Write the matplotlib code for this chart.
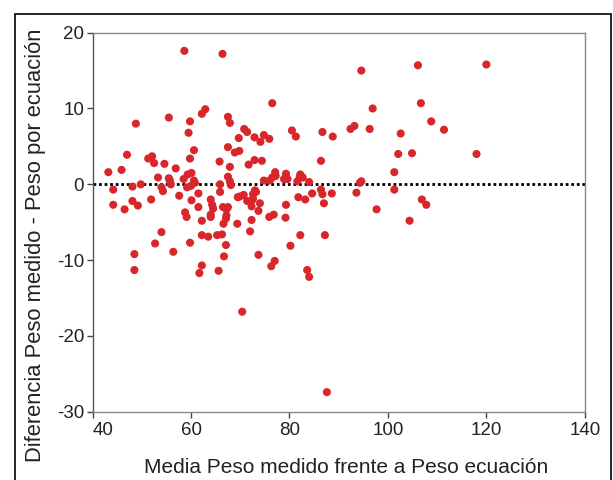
import matplotlib.pyplot as plt
from matplotlib.patches import Rectangle

plt.rcParams['font.family'] = ['Liberation Sans', 'DejaVu Sans']
plt.rcParams['axes.unicode_minus'] = False

# mean of measured weight and equation weight (x) vs difference (y)
media = [58.65, 66.4, 106.1, 120.0, 94.6, 76.5, 106.7, 96.9, 62.9, 62.2,
         55.5, 67.5, 59.8, 67.9, 48.8, 108.8, 59.5, 70.8, 71.4, 69.7,
         72.9, 74.8, 74.1, 75.9, 80.5, 81.3, 86.7, 88.8, 92.4, 93.2,
         96.3, 102.6, 111.4, 67.5, 60.6, 59.8, 47.0, 68.9, 69.8, 51.3,
         52.1, 52.5, 54.6, 56.9, 65.8, 67.9, 71.7, 72.9, 74.4, 86.4,
         102.1, 104.9, 118.0, 43.2, 45.9, 53.3, 55.5, 55.7, 55.9, 58.5,
         59.3, 60.1, 60.6, 60.8, 67.5, 67.9, 68.1, 49.8, 48.1, 44.2,
         54.0, 54.3, 59.2, 60.0, 65.9, 61.5, 57.6, 51.9, 48.1, 44.2,
         46.5, 49.2, 60.1, 61.5, 58.8, 59.1, 64.0, 64.3, 64.5, 64.0,
         64.0, 62.2, 66.5, 67.2, 67.5, 67.2, 67.1, 66.6, 69.4, 69.9,
         70.7, 71.4, 72.4, 72.6, 73.0, 73.2, 72.3, 72.6, 74.0, 73.7,
         72.3, 72.0, 62.2, 63.5, 65.3, 66.3, 54.0, 52.7, 59.8, 67.1,
         56.4, 48.5, 66.7, 73.7, 62.2, 61.7, 65.6, 48.5, 76.3, 77.0,
         80.2, 82.2, 87.2, 83.6, 84.0, 70.4, 87.6, 75.9, 76.8, 79.2,
         79.3, 81.8, 83.2, 84.6, 86.4, 86.7, 87.0, 88.6, 93.6, 97.7,
         104.4, 106.9, 107.8, 101.3, 101.3, 94.3, 94.6, 84.0, 82.1, 82.2,
         82.7, 81.6, 79.3, 79.6, 78.9, 77.1, 76.5, 76.0, 74.8, 77.2,
         65.9, 69.5]
diferencia = [17.6, 17.2, 15.7, 15.8, 15.0, 10.7, 10.7, 10.0, 9.9, 9.3,
              8.8, 8.9, 8.3, 8.1, 8.0, 8.3, 6.8, 7.3, 6.9, 6.1,
              6.2, 6.5, 5.6, 6.0, 7.1, 6.3, 6.9, 6.3, 7.3, 7.7,
              7.3, 6.7, 7.2, 4.9, 4.5, 3.4, 3.9, 4.2, 4.4, 3.4,
              3.7, 2.8, 2.7, 2.1, 3.0, 2.3, 2.6, 3.2, 3.1, 3.1,
              4.0, 4.1, 4.0, 1.6, 1.9, 0.9, 0.8, 0.5, 0.0, 0.7,
              1.3, 1.5, 0.5, 0.2, 1.0, 0.4, -0.1, 0.0, -0.3, -0.7,
              -0.4, -0.9, -0.4, -0.2, -1.0, -1.2, -1.5, -2.0, -2.2, -2.7,
              -3.3, -2.8, -2.1, -3.0, -3.7, -4.3, -2.0, -2.7, -3.2, -4.0,
              -4.3, -4.8, -3.0, -3.3, -3.0, -4.1, -4.5, -5.2, -5.2, -1.6,
              -1.4, -2.2, -2.1, -1.3, -0.8, -1.0, -2.9, -1.9, -2.5, -3.5,
              -4.7, -6.2, -6.7, -6.9, -6.7, -6.6, -6.3, -7.8, -7.7, -8.0,
              -8.9, -9.2, -9.5, -9.3, -10.7, -11.7, -11.4, -11.3, -10.8, -10.1,
              -8.1, -6.7, -6.7, -11.3, -12.2, -16.8, -27.4, -4.3, -4.0, -4.4,
              -2.7, -1.7, -2.0, -1.2, -0.7, -1.3, -2.5, -1.2, -1.1, -3.3,
              -4.8, -2.0, -2.7, -0.7, 1.6, 0.2, 0.4, 0.3, 1.0, 1.3,
              0.9, 0.4, 1.4, 0.7, 0.7, 1.6, 0.9, 0.5, 0.5, 1.1,
              0.0, -1.7]

x_ticks = [40, 60, 80, 100, 120, 140]
y_ticks = [-30, -20, -10, 0, 10, 20]

fig = plt.figure(figsize=(6.13, 4.8), dpi=100)
ax = fig.add_axes([0.151, 0.142, 0.803, 0.790])

ax.axhline(0, color='black', ls=(0, (1, 1)), lw=2, zorder=1)
ax.scatter(media, diferencia, s=34, color='#d8262a', edgecolors='none', zorder=2)

ax.set_xlim(40, 140)
ax.set_ylim(-30, 20)
ax.set_xticks(x_ticks)
ax.set_yticks(y_ticks)
ax.tick_params(direction='out', length=4, width=1, color='#444444',
               labelsize=13.5, colors='#222222', pad=2)
ax.tick_params(axis='x', pad=3)
ax.get_xticklabels()[0].set_ha('left')
for side in ['top', 'right', 'left', 'bottom']:
    ax.spines[side].set_color('#888888')
    ax.spines[side].set_linewidth(1)
ax.spines['left'].set_color('#555555')

ax.set_xlabel('Media Peso medido frente a Peso ecuación', fontsize=15,
              color='#222222')
ax.set_ylabel('Diferencia Peso medido - Peso por ecuación', fontsize=15.8,
              color='#222222')
ax.xaxis.set_label_coords(0.515, -0.121)
ax.yaxis.set_label_coords(-0.094, 0.44)

# outer frame around the figure
frame = Rectangle((0.024, -0.05), 0.972, 1.02, transform=fig.transFigure,
                  fill=False, edgecolor='black', lw=1.2, clip_on=False)
fig.add_artist(frame)

fig.savefig('out.png', dpi=100)
